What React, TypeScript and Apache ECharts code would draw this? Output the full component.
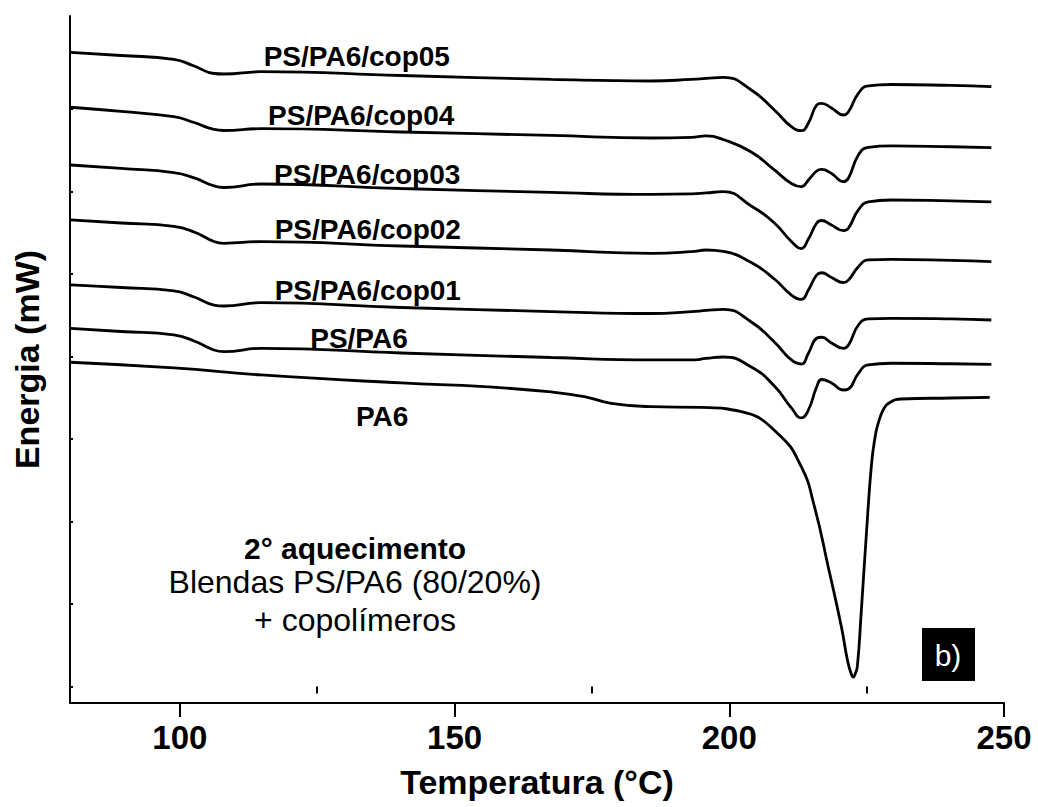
import React, { useEffect, useRef } from "react";
import * as echarts from "echarts";

// Temperature (°C) sampling for the blend curves
const tempBlend = [80.1, 89.3, 98.9, 102.6, 106.2, 108.0, 114.8, 140.3, 167.6, 185.8, 193.1, 195.8, 198.9, 204.0, 208.2, 211.3, 213.1, 214.4, 215.9, 216.8, 218.6, 220.8, 221.7, 223.5, 225.3, 229.5, 240.4, 247.7];

const cop05 = [7.685, 7.648, 7.602, 7.521, 7.430, 7.424, 7.452, 7.406, 7.358, 7.339, 7.358, 7.370, 7.384, 7.230, 6.988, 6.785, 6.737, 6.830, 7.048, 7.069, 7.012, 6.927, 6.967, 7.190, 7.279, 7.297, 7.285, 7.270];
const cop04 = [7.021, 6.970, 6.907, 6.836, 6.752, 6.739, 6.761, 6.721, 6.679, 6.648, 6.657, 6.673, 6.630, 6.479, 6.261, 6.097, 6.058, 6.139, 6.248, 6.267, 6.218, 6.119, 6.164, 6.442, 6.535, 6.552, 6.542, 6.531];
const cop03 = [6.321, 6.279, 6.228, 6.164, 6.067, 6.048, 6.091, 6.036, 5.988, 5.964, 5.970, 5.982, 5.998, 5.824, 5.618, 5.394, 5.309, 5.424, 5.615, 5.648, 5.594, 5.525, 5.558, 5.776, 5.873, 5.897, 5.885, 5.873];
const cop02 = [5.655, 5.618, 5.576, 5.509, 5.394, 5.372, 5.392, 5.339, 5.291, 5.251, 5.270, 5.291, 5.273, 5.139, 4.939, 4.745, 4.693, 4.806, 4.988, 5.015, 4.958, 4.895, 4.927, 5.088, 5.170, 5.178, 5.164, 5.149];
const cop01 = [4.867, 4.836, 4.794, 4.721, 4.624, 4.612, 4.652, 4.594, 4.545, 4.521, 4.543, 4.558, 4.572, 4.418, 4.176, 3.958, 3.909, 4.039, 4.221, 4.233, 4.164, 4.099, 4.139, 4.382, 4.455, 4.463, 4.455, 4.442];
const psPa6 = [4.342, 4.303, 4.261, 4.188, 4.079, 4.058, 4.099, 4.042, 3.988, 3.958, 3.958, 3.976, 3.994, 3.873, 3.642, 3.376, 3.255, 3.352, 3.630, 3.721, 3.679, 3.594, 3.606, 3.796, 3.897, 3.918, 3.912, 3.905];

// Pure PA6 curve
const tempPa6 = [80.1, 98.9, 114.8, 140.3, 155.4, 167.6, 173.6, 178.5, 185.8, 194.9, 202.2, 208.9, 213.1, 215.5, 218.0, 220.4, 221.5, 222.2, 222.6, 222.9, 223.3, 224.0, 225.0, 225.9, 226.6, 227.1, 228.1, 229.0, 231.3, 240.4, 247.4];
const pa6 = [3.930, 3.861, 3.776, 3.679, 3.634, 3.570, 3.513, 3.433, 3.392, 3.382, 3.331, 3.061, 2.664, 2.179, 1.452, 0.725, 0.321, 0.152, 0.115, 0.152, 0.240, 0.887, 1.897, 2.705, 3.048, 3.190, 3.364, 3.433, 3.485, 3.497, 3.505];

const seriesNames = ["PS/PA6/cop05", "PS/PA6/cop04", "PS/PA6/cop03", "PS/PA6/cop02", "PS/PA6/cop01", "PS/PA6", "PA6"];
// label anchor in data coordinates [temperature, energy]
const labelTemp = [132.2, 133.0, 134.1, 134.2, 134.2, 132.6, 136.8];
const labelEnergy = [7.636, 6.921, 6.2, 5.545, 4.794, 4.224, 3.267];

const xMajorTicks = [100, 150, 200, 250];
const xMinorTicks = [125, 175, 225];
const yTicks = [0, 1, 2, 3, 4, 5, 6, 7];

const FONT = 'Arial, "Liberation Sans", Helvetica, sans-serif';

export default function App() {
  const ref = useRef<HTMLDivElement>(null);
  useEffect(() => {
    if (!ref.current) return;
    const chart = echarts.init(ref.current, undefined, { renderer: "svg" });
    const curves = [
      { t: tempBlend, v: cop05 },
      { t: tempBlend, v: cop04 },
      { t: tempBlend, v: cop03 },
      { t: tempBlend, v: cop02 },
      { t: tempBlend, v: cop01 },
      { t: tempBlend, v: psPa6 },
      { t: tempPa6, v: pa6 },
    ];
    const series = curves.map((c, i) => ({
      name: seriesNames[i],
      type: "line",
      xAxisIndex: 0,
      yAxisIndex: 0,
      data: c.t.map((t, k) => [t, c.v[k]]),
      showSymbol: false,
      smooth: 0.5,
      lineStyle: { color: "#000", width: 2.8 },
      itemStyle: { color: "#000" },
      silent: true,
      markPoint: {
        silent: true,
        symbol: "rect",
        symbolSize: 1,
        itemStyle: { color: "rgba(0,0,0,0)" },
        label: {
          show: true,
          position: "inside",
          formatter: seriesNames[i],
          color: "#000",
          fontFamily: FONT,
          fontWeight: "bold",
          fontSize: 28,
        },
        data: [{ coord: [labelTemp[i], labelEnergy[i]] }],
      },
    }));

    chart.setOption({
      animation: false,
      backgroundColor: "#fff",
      grid: { left: 70, right: 34, top: 16, bottom: 104, containLabel: false },
      xAxis: [
        {
          type: "value",
          position: "bottom",
          min: 80,
          max: 250,
          name: "Temperatura (°C)",
          nameLocation: "middle",
          nameGap: 62,
          nameTextStyle: { fontFamily: FONT, fontWeight: "bold", fontSize: 34, color: "#000" },
          axisLine: { show: true, onZero: false, lineStyle: { color: "#000", width: 2 } },
          axisTick: { show: true, customValues: xMajorTicks, length: 14, lineStyle: { color: "#000", width: 2 } },
          axisLabel: { show: true, customValues: xMajorTicks, margin: 18, fontFamily: FONT, fontWeight: "bold", fontSize: 33, color: "#000" },
          splitLine: { show: false },
        },
        {
          type: "value",
          position: "bottom",
          offset: 0,
          min: 80,
          max: 250,
          axisLine: { show: false },
          axisTick: { show: true, customValues: xMinorTicks, length: 7, lineStyle: { color: "#000", width: 2 } },
          axisLabel: { show: false },
          splitLine: { show: false },
        },
      ],
      yAxis: {
        type: "value",
        min: -0.2,
        max: 8.127,
        name: "Energia (mW)",
        nameLocation: "middle",
        nameGap: 26,
        nameTextStyle: { fontFamily: FONT, fontWeight: "bold", fontSize: 34, color: "#000" },
        axisLine: { show: true, onZero: false, lineStyle: { color: "#000", width: 2 } },
        axisTick: { show: true, inside: true, customValues: yTicks, length: 3, lineStyle: { color: "#000", width: 2 } },
        axisLabel: { show: false },
        splitLine: { show: false },
      },
      series,
      graphic: [
        { type: "text", x: 355, y: 548, style: { text: "2° aquecimento", fontFamily: FONT, fontWeight: "bold", fontSize: 30, fill: "#000", align: "center", verticalAlign: "middle" } },
        { type: "text", x: 355, y: 582, style: { text: "Blendas PS/PA6 (80/20%)", fontFamily: FONT, fontSize: 32, fill: "#000", align: "center", verticalAlign: "middle" } },
        { type: "text", x: 355, y: 620, style: { text: "+ copolímeros", fontFamily: FONT, fontSize: 32, fill: "#000", align: "center", verticalAlign: "middle" } },
        { type: "rect", shape: { x: 922, y: 628, width: 53, height: 53 }, style: { fill: "#000" } },
        { type: "text", x: 948, y: 655, style: { text: "b)", fontFamily: FONT, fontSize: 30, fill: "#fff", align: "center", verticalAlign: "middle" } },
      ],
    });
    return () => chart.dispose();
  }, []);
  return (
    <div
      ref={ref}
      style={{ position: "absolute", left: 0, top: 0, width: 1038, height: 807, background: "#fff" }}
    />
  );
}
